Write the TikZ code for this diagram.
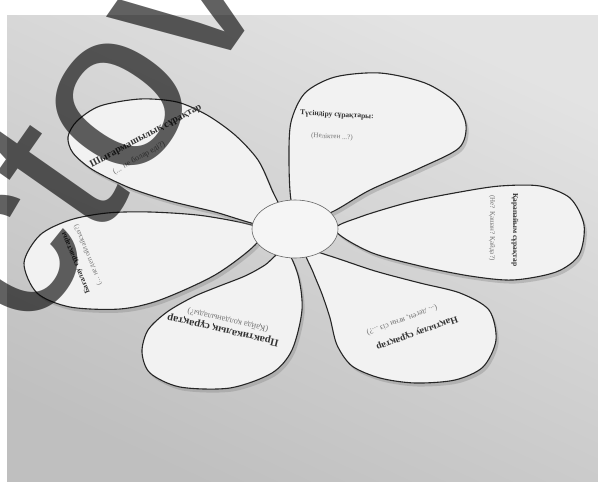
\documentclass[tikz,border=0pt]{standalone}
\usepackage{fontspec}
\setmainfont{Liberation Serif}
\setsansfont{Liberation Sans}
\usetikzlibrary{shapes.geometric, shadows}

\begin{document}
\begin{tikzpicture}[
    x=1pt, y=-1pt,
    petal/.style={draw=black!85, line width=1.1pt, fill=black!5,
        drop shadow={shadow xshift=2.5pt, shadow yshift=-3.5pt, opacity=0.35}},
    hub disc/.style={ellipse, draw=black!60, line width=0.6pt, fill=black!4,
        minimum width=86pt, minimum height=58pt},
    title text/.style={font=\bfseries, text=black!80, inner sep=0pt},
    question text/.style={text=black!55, inner sep=0pt},
    watermark/.style={font=\sffamily\fontsize{230}{230}\selectfont, text=black, opacity=0.62, inner sep=0pt}
]
    \useasboundingbox (0,0) rectangle (598,482);

    % --- paper background ---
    \fill[white] (0,0) rectangle (598,482);
    \shade[top color=black!11, bottom color=black!25, shading angle=-25]
        (7,15) rectangle (598,482);

    % --- petals ---
    % top
    \draw[petal] plot[smooth cycle] coordinates {(300,222) (291,200) (289,160) (291,122) (305,93) (335,77) (380,73) (425,83) (455,102) (466,125) (459,148) (420,168) (370,190) (332,212)};
    % right
    \draw[petal] plot[smooth cycle] coordinates {(335,230) (360,217) (410,202) (460,192) (500,186) (540,186) (570,198) (584,225) (579,255) (556,272) (513,280) (470,276) (420,266) (370,252)};
    % bottom right
    \draw[petal] plot[smooth cycle] coordinates {(305,250) (313,272) (322,294) (330,318) (337,345) (352,366) (380,378) (415,383) (455,380) (483,367) (496,340) (489,310) (460,293) (420,283) (375,271) (330,256)};
    % bottom left
    \draw[petal] plot[smooth cycle] coordinates {(285,250) (298,275) (302,310) (292,350) (272,373) (230,388) (180,387) (150,373) (142,352) (148,330) (167,312) (193,297) (217,287) (245,276) (265,265)};
    % left
    \draw[petal] plot[smooth cycle] coordinates {(260,228) (205,216) (150,212) (107,213) (70,220) (40,235) (24,263) (37,293) (70,307) (120,309) (160,300) (215,275) (255,245)};
    % upper left
    \draw[petal] plot[smooth cycle] coordinates {(285,222) (272,190) (258,160) (235,135) (207,115) (177,102) (140,99) (100,106) (77,121) (68,137) (73,153) (93,170) (130,188) (170,201) (215,212) (260,225)};

    % --- centre ---
    \node[hub disc] (hub) at (295,229) {};

    % --- petal texts ---
    \node[title text, rotate=-3, font=\bfseries\fontsize{7.5}{9}\selectfont] (t1) at (337,115) {Түсіндіру сұрақтары:};
    \node[question text, rotate=-3, font=\fontsize{7}{9}\selectfont] (q1) at (332,137) {(Неліктен ...?)};

    \node[title text, rotate=-90, font=\bfseries\fontsize{7.5}{9}\selectfont] (t2) at (515,230) {Қарапайым сұрақтар};
    \node[question text, rotate=-90, font=\fontsize{7}{9}\selectfont] (q2) at (492,228) {(Не? Қашан? Қайда?)};

    \node[title text, rotate=200, font=\bfseries\fontsize{9.5}{11}\selectfont] (t3) at (417,333) {Нақтылау сұрақтар};
    \node[question text, rotate=200, font=\fontsize{8}{10}\selectfont] (q3) at (402,320) {(... деген, яғни сіз ...?)};

    \node[title text, rotate=167, font=\bfseries\fontsize{10.5}{12}\selectfont] (t4) at (223,330) {Практикалық сұрақтар};
    \node[question text, rotate=167, font=\fontsize{8.5}{10}\selectfont] (q4) at (228,320) {(Қайда қолданылады?)};

    \node[title text, rotate=112, font=\bfseries\fontsize{7.5}{9}\selectfont] (t5) at (76,263) {Бағалау сұрақтары};
    \node[question text, rotate=112, font=\fontsize{7}{8}\selectfont] (q5) at (88,255) {(... не деп ойлайсыз?)};

    \node[title text, rotate=28, font=\bfseries\fontsize{10}{12}\selectfont] (t6) at (146,136) {Шығармашылық сұрақтар};
    \node[question text, rotate=30, font=\fontsize{8}{10}\selectfont] (q6) at (139,158) {(... не болар еді?)};

    % --- watermark ---
    \node[watermark, rotate=55] (wm) at (91,124) {ctov};
\end{tikzpicture}
\end{document}
